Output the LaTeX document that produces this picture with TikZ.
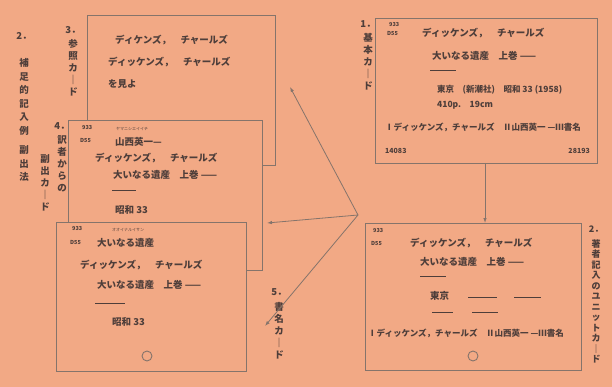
\documentclass[tikz,border=0pt]{standalone}
\usepackage{fontspec}
\setmainfont{Noto Sans CJK JP}
\usetikzlibrary{arrows.meta}
\definecolor{paper}{HTML}{F2A985}
\definecolor{ink}{HTML}{4E3E3A}
\definecolor{rulec}{HTML}{85746B}
\begin{document}
\begin{tikzpicture}[x=1pt,y=-1pt,
  every node/.style={inner sep=0pt,text=ink},
  card/.style={draw=rulec,line width=0.9pt,fill=paper},
  txt/.style={font=\fontsize{9.5}{10}\selectfont\bfseries,anchor=west},
  mid/.style={font=\fontsize{8.5}{9}\selectfont\bfseries,anchor=west},
  small/.style={font=\fontsize{5.5}{6}\selectfont\bfseries,anchor=west},
  ruby/.style={font=\fontsize{4}{4}\selectfont,anchor=west},
  vlab/.style={font=\fontsize{9.5}{12}\selectfont\bfseries,align=center,anchor=north},
  bar/.style={draw=ink,line width=1pt},
  link/.style={draw=rulec,line width=0.8pt,-{Latex[length=5pt,width=3.5pt]}}]
\useasboundingbox (0,0) rectangle (612,387);
\fill[paper] (0,0) rectangle (612,387);

% ---- left cards (stacked) ----
\draw[card] (87,15) rectangle (275,165);
\node[txt] (c3a) at (115,40) {ディケンズ，　チャールズ};
\node[txt] (c3b) at (108,62) {ディッケンズ，　チャールズ};
\node[txt] (c3c) at (108,84) {を見よ};

\draw[card] (68,120) rectangle (262,270);
\node[small] (c4n1) at (82,128) {933};
\node[small] (c4n2) at (80,140) {D55};
\node[ruby] (c4r) at (116,129) {ヤマニシエイイチ};
\node[txt] (c4a) at (115,142) {山西英一—};
\node[txt] (c4b) at (95,158) {ディッケンズ，　チャールズ};
\node[txt] (c4c) at (113,175) {大いなる遺産　上巻 ——};
\draw[bar] (112,191) -- (136,191);
\node[txt] (c4d) at (115,210) {昭和 33};

\draw[card] (56,222) rectangle (246,371);
\node[small] (c5n1) at (72,229) {933};
\node[small] (c5n2) at (70,242) {D55};
\node[ruby] (c5r) at (112,230) {オオイナルイサン};
\node[txt] (c5a) at (97,243) {大いなる遺産};
\node[txt] (c5b) at (80,265) {ディッケンズ，　チャールズ};
\node[txt] (c5c) at (97,285) {大いなる遺産　上巻 ——};
\draw[bar] (95,303) -- (125,303);
\node[txt] (c5d) at (112,322) {昭和 33};
\draw[rulec,line width=0.9pt] (147,356) circle (5);

% ---- right cards ----
\draw[card] (375,18) rectangle (597,163);
\node[small] (c1n1) at (389,25) {933};
\node[small] (c1n2) at (387,33) {D55};
\node[txt] (c1a) at (422,33) {ディッケンズ，　チャールズ};
\node[txt] (c1b) at (432,56) {大いなる遺産　上巻 ——};
\draw[bar] (430,71) -- (456,71);
\node[mid] (c1c) at (437,90) {東京　(新潮社)　昭和 33 (1958)};
\node[mid] (c1d) at (437,105) {410p.　19cm};
\node[mid] (c1e) at (385,127) {Ⅰディッケンズ，チャールズ　Ⅱ山西英一 —Ⅲ書名};
\node[mid,font=\fontsize{7}{8}\selectfont\bfseries] (c1f) at (385,151) {14083};
\node[mid,font=\fontsize{7}{8}\selectfont\bfseries,anchor=east] (c1g) at (590,151) {28193};

\draw[card] (365,223) rectangle (581,370);
\node[small] (c2n1) at (373,231) {933};
\node[small] (c2n2) at (371,243) {D55};
\node[txt] (c2a) at (410,243) {ディッケンズ，　チャールズ};
\node[txt] (c2b) at (420,262) {大いなる遺産　上巻 ——};
\draw[bar] (420,276) -- (446,276);
\node[txt] (c2c) at (430,296) {東京};
\draw[bar] (468,297) -- (497,297);
\draw[bar] (514,297) -- (541,297);
\draw[bar] (432,312) -- (453,312);
\draw[bar] (472,312) -- (498,312);
\node[mid] (c2e) at (368,333) {Ⅰディッケンズ，チャールズ　Ⅱ山西英一 —Ⅲ書名};
\draw[rulec,line width=0.9pt] (473,356) circle (5);

% ---- vertical labels ----
\node[vlab,font=\fontsize{9.5}{13.5}\selectfont\bfseries] (L2) at (24,32) {2．\\[14pt]補\\足\\的\\記\\入\\例\\[6pt]副\\出\\法};
\node[vlab] (L3) at (73,26) {3．\\[2pt]参\\照\\カ\\｜\\ド};
\node[vlab] (L4) at (62,122) {4．\\[2pt]訳\\者\\か\\ら\\の};
\node[vlab] (L4b) at (45,154) {副\\出\\カ\\｜\\ド};
\node[vlab] (L1) at (368,20) {1．\\[2pt]基\\本\\カ\\｜\\ド};
\node[vlab,font=\fontsize{9}{10.5}\selectfont\bfseries] (L6) at (596,226) {2．\\[4pt]著\\者\\記\\入\\の\\ユ\\ニ\\ッ\\ト\\カ\\｜\\ド};
\node[vlab] (L5) at (279,288) {5．\\[3pt]書\\名\\カ\\｜\\ド};

% ---- connectors ----
\coordinate (hub) at (358,215);
\coordinate (t3) at (290,87);
\coordinate (t4) at (267,223);
\coordinate (t5) at (265,326);
\coordinate (s1) at (485,163);
\coordinate (e2) at (485,223);
\draw[link] (hub) -- (t3);
\draw[link] (hub) -- (t4);
\draw[link] (hub) -- (t5);
\draw[link] (s1) -- (e2);
\end{tikzpicture}
\end{document}
